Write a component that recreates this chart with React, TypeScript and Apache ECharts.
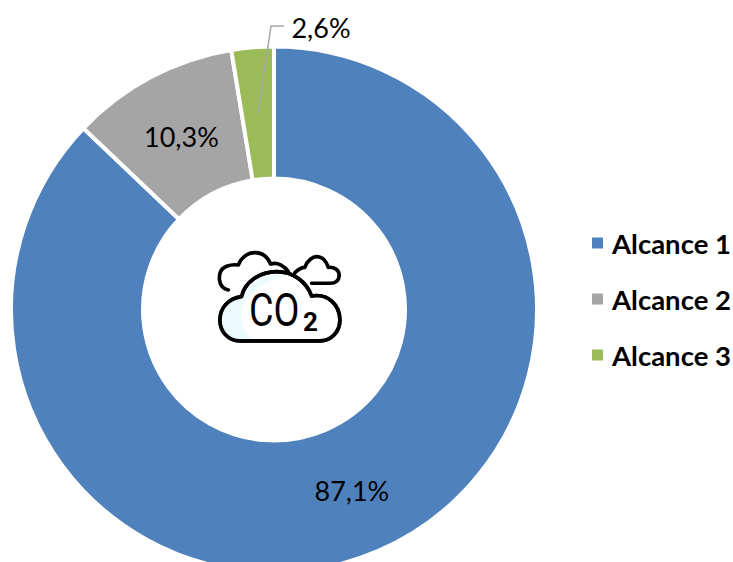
import React, { useEffect, useRef } from "react";
import * as echarts from "echarts";

const categories = ["Alcance 1", "Alcance 2", "Alcance 3"];
const values = [87.1, 10.3, 2.6];
const colors = ["#4F81BD", "#A5A5A5", "#9BBB59"];
const FONT = "Lato";

const bigCloud = "M120 303C85 303 60 275 60 240C60 205 85 175 125 170C135 125 180 95 230 95C280 95 320 125 335 168C385 160 420 195 420 240C420 275 395 303 360 303Z";
const leftCloud = "M85 150C60 145 55 120 60 100C65 80 90 72 115 75C125 50 145 38 165 38C190 38 205 55 212 72C235 65 255 80 265 95";
const rightCloud = "M285 98C295 88 305 82 315 82C322 60 340 50 350 50C368 50 380 65 385 82C405 80 418 92 418 106C418 122 405 130 392 130L335 130";
const glow = "M120 300C85 300 63 275 63 240C63 205 88 178 128 172C140 130 190 100 270 105C190 120 110 180 125 240C130 270 140 290 165 300Z";

echarts.graphic.registerShape("bigCloud", echarts.graphic.extendPath(bigCloud, {}) as any);
echarts.graphic.registerShape("leftCloud", echarts.graphic.extendPath(leftCloud, {}) as any);
echarts.graphic.registerShape("rightCloud", echarts.graphic.extendPath(rightCloud, {}) as any);
echarts.graphic.registerShape("glow", echarts.graphic.extendPath(glow, {}) as any);

function icon(type: string, z: number, style: any) {
  return { type, x: 0, y: 0, z, silent: true, style };
}

export default function App() {
  const ref = useRef<HTMLDivElement>(null);
  useEffect(() => {
    const chart = echarts.init(ref.current!, undefined, { renderer: "svg" });
    const line = { fill: "none", stroke: "#000", lineWidth: 11, lineCap: "round", lineJoin: "round" };
    chart.setOption({
      animation: false,
      backgroundColor: "#fff",
      legend: {
        orient: "vertical",
        left: 585,
        top: 224,
        itemWidth: 13,
        itemHeight: 13,
        itemGap: 28,
        icon: "rect",
        data: categories,
        textStyle: { fontFamily: FONT, fontSize: 27.5, fontWeight: "bold", color: "#000", padding: [0, 0, 0, 3] },
      },
      series: [
        {
          type: "pie",
          center: [274, 309.5],
          radius: [131, 263],
          startAngle: 90,
          clockwise: true,
          silent: true,
          itemStyle: { borderColor: "#fff", borderWidth: 4 },
          label: {
            show: true,
            position: "inside",
            formatter: (p: any) => p.value.toFixed(1).replace(".", ",") + "%",
            fontFamily: FONT,
            fontSize: 27,
            color: "#000",
          },
          labelLine: { show: false },
          labelLayout: (p: any) =>
            p.dataIndex === 2
              ? { x: 321, y: 27, align: "center", verticalAlign: "middle" }
              : p.dataIndex === 0
                ? { dx: -1, dy: -3 }
                : { dx: 1, dy: 4 },
          data: categories.map((name, i) => ({ name, value: values[i], itemStyle: { color: colors[i] } })),
        },
      ],
      graphic: [
        {
          type: "polyline",
          silent: true,
          z: 50,
          shape: { points: [[258, 113], [271, 26], [284, 26]] },
          style: { fill: "none", stroke: "#A6A6A6", lineWidth: 1.5 },
        },
        {
          type: "group",
          x: 200,
          y: 240,
          scaleX: 1 / 3,
          scaleY: 1 / 3,
          z: 60,
          children: [
            icon("leftCloud", 1, line),
            icon("rightCloud", 1, line),
            icon("bigCloud", 2, { ...line, fill: "#fff" }),
            icon("glow", 3, { fill: "#ECFBFC" }),
            icon("bigCloud", 4, line),
          ],
        },
        {
          type: "text",
          x: 249,
          y: 310,
          z: 70,
          scaleX: 0.82,
          silent: true,
          style: { text: "CO", fontFamily: "Roboto", fontSize: 46, fill: "#000", textVerticalAlign: "middle" },
        },
        {
          type: "text",
          x: 303,
          y: 322,
          z: 70,
          silent: true,
          style: { text: "2", fontFamily: "Roboto", fontWeight: "bold", fontSize: 26, fill: "#000", textVerticalAlign: "middle" },
        },
      ],
    });
    return () => chart.dispose();
  }, []);
  return <div ref={ref} style={{ position: "fixed", left: 0, top: 0, width: 733, height: 562 }} />;
}
